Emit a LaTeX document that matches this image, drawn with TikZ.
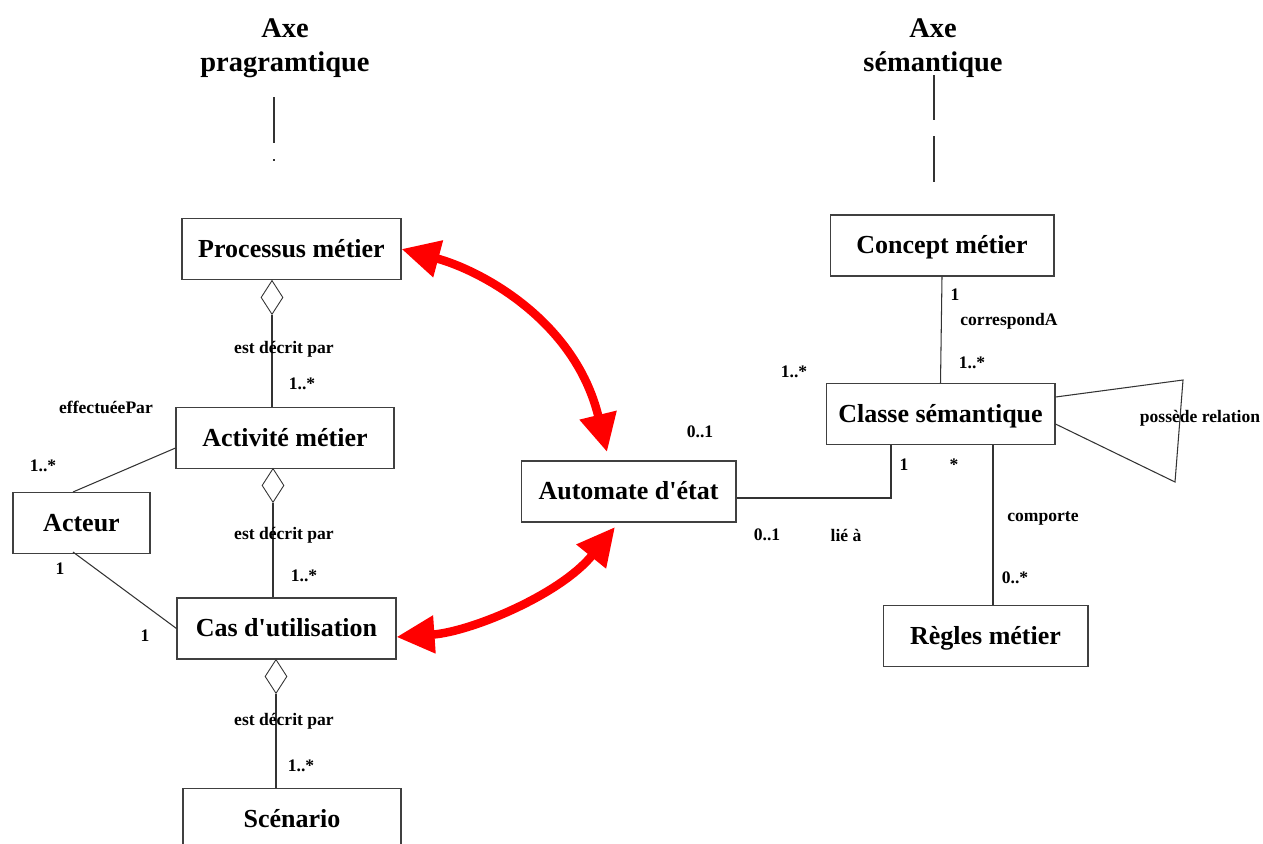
\documentclass[tikz,border=0pt]{standalone}
\usepackage{fontspec}
\setmainfont{Liberation Serif}
\usetikzlibrary{arrows.meta,shapes.geometric}

\tikzset{
	box/.style={draw=black!75, line width=0.6pt, fill=white, minimum height=1.22cm, inner sep=0pt, text height=12.5pt, text depth=3pt, font=\fontsize{14.8}{17}\selectfont\bfseries},
	titre/.style={align=center, font=\fontsize{16.2}{19.3}\selectfont\bfseries},
	lbl/.style={inner sep=0pt, font=\fontsize{10}{12}\selectfont\bfseries},
	agg/.style={draw=black!80, line width=0.5pt, fill=white, shape=diamond, anchor=north, inner sep=0pt, minimum width=0.44cm, minimum height=0.68cm},
	lien/.style={draw=black!80, line width=0.6pt},
	fleche/.style={red, line width=0.17cm, {Triangle[length=0.76cm,width=0.72cm]}-{Triangle[length=0.76cm,width=0.72cm]}}
}

\begin{document}
\begin{tikzpicture}[x=0.02cm, y=-0.02cm]
\useasboundingbox (0,0) rectangle (1263,843);

\node[titre] (axeP) at (285,48) {Axe\\pragramtique};
\node[titre] (axeS) at (933,48) {Axe\\sémantique};
\draw[lien] (274,97)--(274,143) (274,159)--(274,161);
\draw[lien] (934,75)--(934,120) (934,136)--(934,182);

\node[box, minimum width=4.38cm] (proc) at (291.5,249) {Processus métier};
\node[box, minimum width=4.36cm] (act) at (285,438) {Activité métier};
\node[box, minimum width=2.74cm] (acteur) at (81.5,523) {Acteur};
\node[box, minimum width=4.38cm] (cas) at (286.5,628.5) {Cas d\textquotesingle utilisation};
\node[box, minimum width=4.36cm] (scen) at (292,819) {Scénario};
\node[box, minimum width=4.30cm] (auto) at (628.5,491.5) {Automate d\textquotesingle état};
\node[box, minimum width=4.48cm] (concept) at (942,245.5) {Concept métier};
\node[box, minimum width=4.58cm] (classe) at (940.5,414) {Classe sémantique};
\node[box, minimum width=4.10cm] (regles) at (985.5,636) {Règles métier};

\node[agg] (d1) at (272,280) {};
\node[agg] (d2) at (273,468) {};
\node[agg] (d3) at (276,659) {};

\draw[lien] (d1.south) -- (d1.south |- act.north);
\draw[lien] (d2.south) -- (d2.south |- cas.north);
\draw[lien] (d3.south) -- (d3.south |- scen.north);
\draw[lien] ([yshift=-0.2cm]act.west) -- ([xshift=-0.17cm]acteur.north);
\draw[lien] ([xshift=-0.17cm,yshift=0.04cm]acteur.south) -- (cas.west);
\draw[lien] ([yshift=-0.13cm]auto.east) -| ([xshift=-0.99cm]classe.south);
\coordinate (c1) at ([xshift=1.05cm]classe.south);
\draw[lien] (c1) -- (c1 |- regles.north);
\draw[lien] (concept.south) -- (classe.north);
\coordinate (r1) at (1183,380);
\coordinate (r2) at (1175,482);
\draw[lien] ([yshift=0.34cm]classe.east) -- (r1) -- (r2) -- ([yshift=-0.2cm]classe.east);

\node[lbl] (dec1) at (284,349) {est décrit par};
\node[lbl] (m1) at (302,384) {1..*};
\node[lbl] (dec2) at (284,535) {est décrit par};
\node[lbl] (m2) at (304,576) {1..*};
\node[lbl] (dec3) at (284,721) {est décrit par};
\node[lbl] (m3) at (301,766) {1..*};
\node[lbl] (eff) at (106,407) {effectuéePar};
\node[lbl] (m4) at (43,466) {1..*};
\node[lbl] (m5) at (60,569) {1};
\node[lbl] (m6) at (145,636) {1};
\node[lbl] (m7) at (700,432) {0..1};
\node[lbl] (m8) at (767,535) {0..1};
\node[lbl] (lie) at (846,535) {lié à};
\node[lbl] (m9) at (904,465) {1};
\node[lbl] (m10) at (954,465) {*};
\node[lbl] (m11) at (955,295) {1};
\node[lbl] (corr) at (1009,321) {correspondA};
\node[lbl] (m12) at (972,363) {1..*};
\node[lbl] (m13) at (794,372) {1..*};
\node[lbl] (comp) at (1043,518) {comporte};
\node[lbl] (m14) at (1015,578) {0..*};
\node[lbl] (rel) at (1200,418) {possède relation};

\coordinate (a1) at (607,452);
\coordinate (a2) at (615,527);
\draw[fleche] (proc.east) .. controls (480,270) and (575,320) .. (a1);
\draw[fleche] ([yshift=-0.17cm]cas.east) .. controls (470,632) and (560,595) .. (a2);

\end{tikzpicture}
\end{document}
